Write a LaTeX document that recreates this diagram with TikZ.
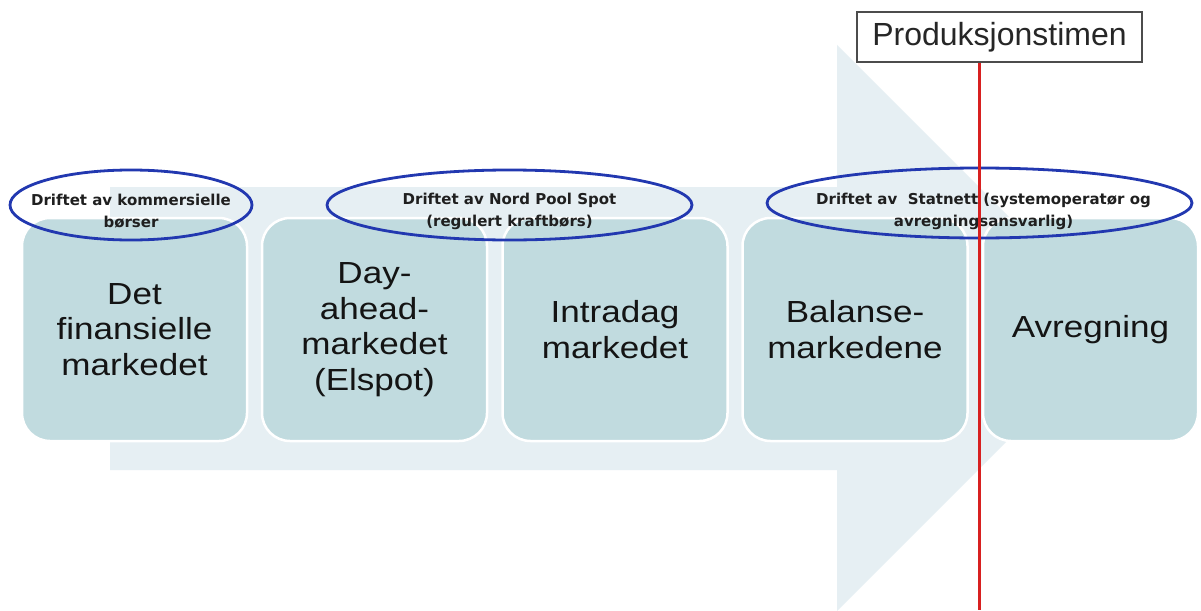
\documentclass[tikz,border=0pt]{standalone}
\usepackage{fontspec}
\setmainfont{Liberation Sans}
\newfontfamily\boxfont[FakeStretch=1.15]{Liberation Sans}
\newfontfamily\smallfont{DejaVu Sans}
\usetikzlibrary{shapes.geometric}
\definecolor{boxteal}{HTML}{C1DBDF}
\definecolor{arrowfill}{HTML}{E6EFF3}
\definecolor{ellblue}{HTML}{2238B0}
\definecolor{redline}{HTML}{D82020}
\begin{document}
\begin{tikzpicture}[x=1pt,y=-1pt,
  mkt/.style={draw=white, line width=2.5pt, fill=boxteal, rounded corners=28pt,
    minimum width=225pt, minimum height=223pt, align=center, inner sep=0pt,
    font=\boxfont\fontsize{30.5}{35.5}\selectfont, text=black!92},
  oval/.style={draw=ellblue, line width=2.8pt, ellipse, inner sep=0pt,
    minimum height=70pt},
  ovaltext/.style={align=center, inner sep=0pt, text=black!88,
    font=\smallfont\bfseries\fontsize{15}{22}\selectfont},
  prodbox/.style={draw=black!70, line width=1.2pt, fill=white,
    minimum width=285pt, minimum height=50pt, inner sep=0pt,
    font=\fontsize{32}{36}\selectfont, text=black!85},
  redrule/.style={draw=redline, line width=3pt}
]
\fill[white] (0,0) rectangle (1201,610);
\useasboundingbox (0,0) rectangle (1201,610);
% big arrow
\fill[arrowfill] (110,187) -- (837,187) -- (837,45) -- (1120,328) -- (837,611)
  -- (837,470) -- (110,470) -- cycle;
% market boxes
\node[mkt] (b1) at (134.5,329.5) {Det\\finansielle\\markedet};
\node[mkt] (b2) at (374.5,329.5) {Day-\\ahead-\\markedet\\(Elspot)};
\node[mkt] (b3) at (615,329.5) {Intradag\\markedet};
\node[mkt] (b4) at (855,329.5) {Balanse-\\markedene};
\node[mkt, minimum width=215pt] (b5) at (1090.5,329.5) {Avregning};
% ellipses
\node[oval, minimum width=242pt] (e1) at (131,205) {};
\node[oval, minimum width=365pt] (e2) at (509.5,205) {};
\node[oval, minimum width=425pt] (e3) at (979.5,203) {};
\node[ovaltext] (t1) at ([yshift=-6pt]e1.center) {Driftet av kommersielle\\børser};
\node[ovaltext] (t2) at ([yshift=-6pt]e2.center) {Driftet av Nord Pool Spot\\(regulert kraftbørs)};
\node[ovaltext] (t3) at ([xshift=4pt,yshift=-8.5pt]e3.center) {Driftet av\ \ Statnett (systemoperatør og\\avregningsansvarlig)};
% production hour
\node[prodbox] (prod) at (999.5,37) {Produksjonstimen};
\coordinate (bot) at (979,610);
\draw[redrule] (prod.south -| bot) -- (bot);
\end{tikzpicture}
\end{document}
